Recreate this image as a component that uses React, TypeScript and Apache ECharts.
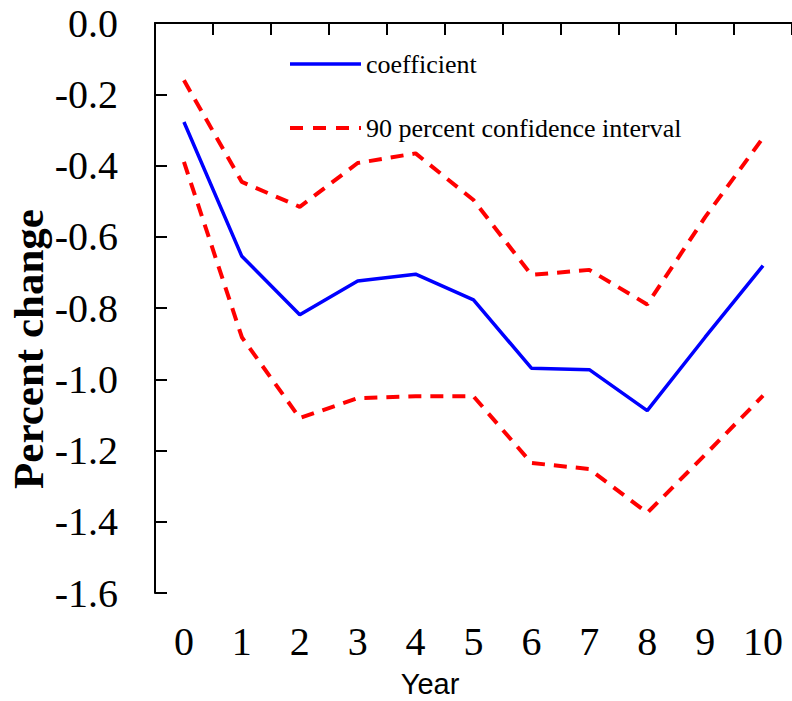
import React, { useEffect, useRef } from "react";
import * as echarts from "echarts";

const years = ["0", "1", "2", "3", "4", "5", "6", "7", "8", "9", "10"];
const coefficient = [-0.278, -0.655, -0.819, -0.724, -0.705, -0.777, -0.969, -0.973, -1.088, -0.882, -0.681];
const upperBound = [-0.161, -0.446, -0.516, -0.393, -0.366, -0.497, -0.707, -0.693, -0.790, -0.545, -0.322];
const lowerBound = [-0.390, -0.882, -1.109, -1.053, -1.048, -1.048, -1.235, -1.252, -1.375, -1.212, -1.046];
const yTicks = { min: -1.6, max: 0, interval: 0.2 };

const SERIF = "'Liberation Serif', 'Times New Roman', serif";
const SANS = "'Liberation Sans', Arial, sans-serif";
const CI_NAME = "90 percent confidence interval";

export default function App() {
  const ref = useRef<HTMLDivElement>(null);
  useEffect(() => {
    if (!ref.current) return;
    const chart = echarts.init(ref.current, null, { renderer: "svg" });
    const dashed = { color: "#ff0000", width: 4, type: [13, 9] as any };
    chart.setOption({
      animation: false,
      backgroundColor: "#ffffff",
      grid: { left: 155, top: 23, width: 640, height: 570 },
      legend: {
        orient: "vertical",
        left: 288,
        top: 51,
        padding: 0,
        itemWidth: 71,
        itemHeight: 26,
        itemGap: 38,
        data: [
          { name: "coefficient", lineStyle: { width: 3.5 } },
          { name: CI_NAME, lineStyle: { width: 4, type: [13, 10] } },
        ],
        itemStyle: { opacity: 0 },
        textStyle: { fontFamily: SERIF, fontSize: 26, color: "#000" },
      },
      xAxis: [
        {
          type: "category",
          data: years,
          position: "top",
          boundaryGap: true,
          axisLine: { show: true, lineStyle: { color: "#000", width: 2 } },
          axisTick: { show: true, inside: true, length: 12, lineStyle: { color: "#000", width: 2 } },
          axisLabel: { show: false },
          splitLine: { show: false },
        },
        {
          type: "category",
          data: years,
          position: "bottom",
          boundaryGap: true,
          axisLine: { show: false },
          axisTick: { show: false },
          axisLabel: { show: true, fontFamily: SERIF, fontSize: 40, color: "#000", margin: 28 },
          splitLine: { show: false },
        },
      ],
      yAxis: {
        type: "value",
        min: yTicks.min,
        max: yTicks.max,
        interval: yTicks.interval,
        axisLine: { show: true, lineStyle: { color: "#000", width: 2 } },
        axisTick: { show: true, inside: true, length: 12, lineStyle: { color: "#000", width: 2 } },
        axisLabel: {
          fontFamily: SERIF,
          fontSize: 40,
          color: "#000",
          margin: 37,
          formatter: (v: number) => (Math.abs(v) < 1e-9 ? "0.0" : v.toFixed(1)),
        },
        splitLine: { show: false },
      },
      graphic: [
        {
          type: "text",
          x: 28,
          y: 349,
          rotation: Math.PI / 2,
          style: {
            text: "Percent change",
            font: `bold 43px ${SERIF}`,
            fill: "#000",
            textAlign: "center",
            textVerticalAlign: "middle",
          },
        },
        {
          type: "text",
          x: 430,
          y: 684,
          style: {
            text: "Year",
            font: `29px ${SANS}`,
            fill: "#000",
            textAlign: "center",
            textVerticalAlign: "middle",
          },
        },
      ],
      series: [
        {
          name: "coefficient",
          type: "line",
          data: coefficient,
          symbol: "none",
          lineStyle: { color: "#0000ff", width: 3.5 },
          itemStyle: { color: "#0000ff" },
        },
        {
          name: CI_NAME,
          type: "line",
          data: upperBound,
          symbol: "none",
          lineStyle: dashed,
          itemStyle: { color: "#ff0000" },
        },
        {
          name: CI_NAME,
          type: "line",
          data: lowerBound,
          symbol: "none",
          lineStyle: dashed,
          itemStyle: { color: "#ff0000" },
        },
      ],
    });
    return () => chart.dispose();
  }, []);
  return (
    <div
      ref={ref}
      style={{ position: "absolute", left: 0, top: 0, width: 792, height: 701 }}
    />
  );
}
